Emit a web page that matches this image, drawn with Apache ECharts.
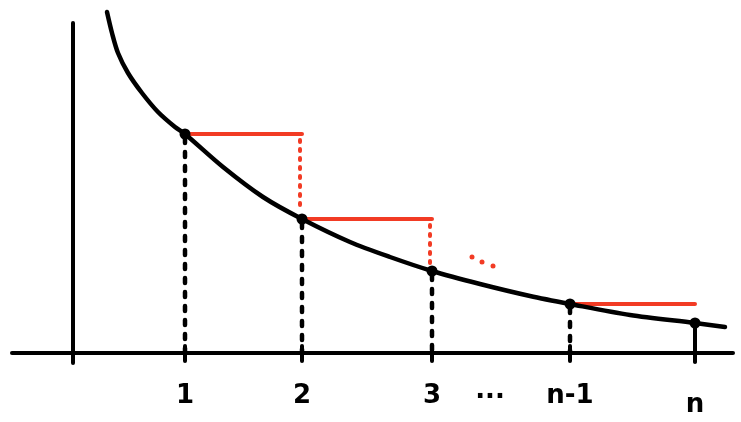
<!DOCTYPE html>
<html>
<head>
<meta charset="utf-8">
<script src="https://cdn.jsdelivr.net/npm/echarts@6/dist/echarts.min.js"></script>
<style>
  html, body { margin: 0; padding: 0; background: #fff; }
  #chart { width: 741px; height: 422px; }
</style>
</head>
<body>
<div id="chart"></div>
<script>
(function() {
  "use strict";

  // origin = where the two hand drawn axes cross, units ~ pixels
  var tickLabels = ['1', '2', '3', 'n-1', 'n'];
  var tickX = [112, 229, 359, 497, 622];
  var pointY = [219, 134, 82, 49, 30];   // height of the curve at each tick

  // the decreasing curve
  var curveX = [34, 39, 45, 55, 69, 85, 102, 112, 150, 190, 229, 277, 317, 359, 407, 457, 497, 557, 622, 652];
  var curveY = [341, 320, 300, 280, 260, 241, 226, 219, 186, 156, 134, 111, 96, 82, 69, 57, 49, 38, 30, 26];

  // red "..." between 3 and n-1
  var dotsX = [399, 409, 420];
  var dotsY = [96, 91, 87];

  var BLACK = '#000000';
  var RED = '#f23b24';

  var series = [];

  function seg(pts, color, width, type) {
    series.push({
      type: 'line',
      data: pts,
      symbol: 'none',
      silent: true,
      lineStyle: { color: color, width: width, type: type || 'solid', cap: 'round' },
      z: 2
    });
  }

  // axes
  seg([[-61, 0], [660, 0]], BLACK, 4);
  seg([[0, 330], [0, -10]], BLACK, 4);

  // little ticks under the x axis
  tickX.forEach(function(x) { seg([[x, 7], [x, -8]], BLACK, 4); });

  // black dotted drops, last one solid
  tickX.forEach(function(x, i) {
    if (i === tickX.length - 1) {
      seg([[x, pointY[i]], [x, -9]], BLACK, 4);
    } else {
      seg([[x, pointY[i] - 4], [x, 0]], BLACK, 4.5, [5, 9]);
    }
  });

  // red steps: 1->2, 2->3, n-1->n
  [0, 1, 3].forEach(function(i) {
    seg([[tickX[i], pointY[i]], [tickX[i + 1], pointY[i]]], RED, 4);
    if (i < 2) {
      seg([[tickX[i + 1] - 2, pointY[i] - 6], [tickX[i + 1] - 2, pointY[i + 1] + 8]], RED, 4, [2, 7]);
    }
  });

  // curve
  series.push({
    type: 'line',
    data: curveX.map(function(x, i) { return [x, curveY[i]]; }),
    smooth: 0.3,
    symbol: 'none',
    silent: true,
    lineStyle: { color: BLACK, width: 4.5, cap: 'round' },
    z: 3
  });

  // points on the curve
  series.push({
    type: 'scatter',
    data: tickX.map(function(x, i) { return [x, pointY[i]]; }),
    symbolSize: 11,
    itemStyle: { color: BLACK, opacity: 1 },
    z: 4
  });

  // red ellipsis
  series.push({
    type: 'scatter',
    data: dotsX.map(function(x, i) { return [x, dotsY[i]]; }),
    symbolSize: 5,
    itemStyle: { color: RED, opacity: 1 },
    z: 4
  });

  // tick labels plus the "..." between 3 and n-1
  var labelData = tickX.map(function(x, i) {
    return { value: [x, tickLabels[i] === 'n' ? -52 : -43], name: tickLabels[i] };
  });
  labelData.splice(3, 0, { value: [417, -45], name: '\u00b7\u00b7\u00b7' });
  series.push({
    type: 'scatter',
    data: labelData,
    symbolSize: 0,
    silent: true,
    itemStyle: { opacity: 1 },
    label: {
      show: true,
      position: 'inside',
      formatter: '{b}',
      color: '#000',
      fontFamily: 'DejaVu Sans',
      fontWeight: 'bold',
      fontSize: 26
    },
    z: 5
  });

  var chart = echarts.init(document.getElementById('chart'));
  chart.setOption({
    animation: false,
    backgroundColor: '#ffffff',
    grid: { left: 0, right: 0, top: 0, bottom: 0 },
    xAxis: { type: 'value', min: -73, max: 668, show: false },
    yAxis: { type: 'value', min: -69, max: 353, show: false },
    series: series
  });
})();
</script>
</body>
</html>
